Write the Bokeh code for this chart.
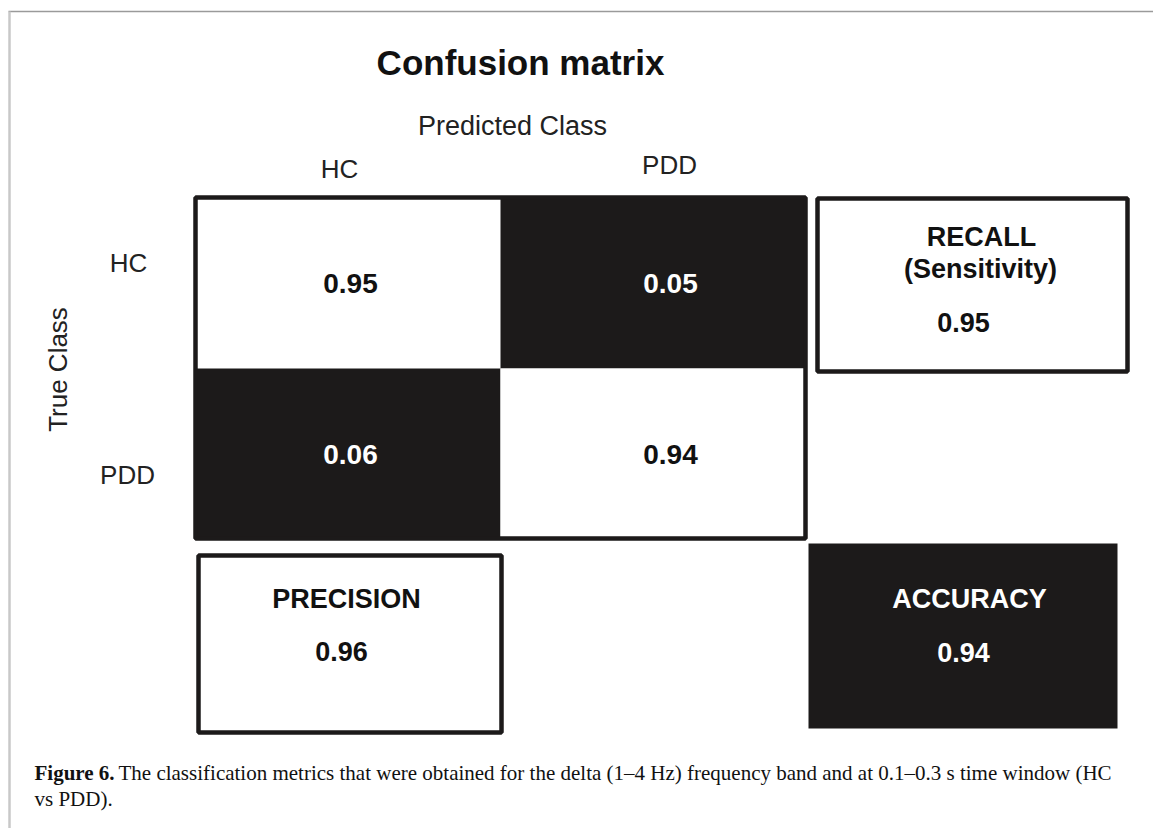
import math
from bokeh.plotting import figure
from bokeh.models import Range1d, ColumnDataSource
from bokeh.core.properties import value
from bokeh.embed import file_html
from bokeh.resources import INLINE

# ---------------- data ----------------
title_text = "Confusion matrix"
x_axis_title = "Predicted Class"
y_axis_title = "True Class"
classes = ["HC", "PDD"]
cm_values = [[0.95, 0.05],
             [0.06, 0.94]]
recall_label = ["RECALL", "(Sensitivity)"]
recall_value = 0.95
precision_label = "PRECISION"
precision_value = 0.96
accuracy_label = "ACCURACY"
accuracy_value = 0.94
caption_bold = "Figure 6."
caption_line1 = "The classification metrics that were obtained for the delta (1\u20134 Hz) frequency band and at 0.1\u20130.3 s time window (HC"
caption_line2 = "vs PDD)."

# ---------------- layout (screen-like coordinates, y downwards) ----------------
W, H = 1153, 828
X0, Y0 = 0, 0
DARK = "#1c1a1a"
INK = "#111111"
SANS = value("Liberation Sans")
SERIF = value("Liberation Serif")

MX0, MY0 = 194, 197     # matrix top-left
CW, CH = 306, 171       # cell size
TXT_DX = [3, 17]        # text offsets inside cells

p = figure(width=W, height=H, output_backend="svg", toolbar_location=None,
           x_range=Range1d(X0, X0 + W), y_range=Range1d(Y0 + H, Y0),
           min_border=0, outline_line_color=None)
p.axis.visible = False
p.grid.visible = False
p.background_fill_color = "white"
p.border_fill_color = "white"

# page frame
p.segment(x0=[8], y0=[11], x1=[X0 + W], y1=[11], line_color="#9a9a9a", line_width=1.5)
p.segment(x0=[9], y0=[11], x1=[9], y1=[Y0 + H], line_color="#c8c8c8", line_width=2.5)

# confusion matrix cells
l, r, t, b, fc, tx, ty, tt, tc = [], [], [], [], [], [], [], [], []
for i, row in enumerate(cm_values):
    for j, v in enumerate(row):
        left = MX0 + j * CW
        top = MY0 + i * CH
        l.append(left); r.append(left + CW)
        t.append(top); b.append(top + CH)
        diag = (i == j)
        fc.append("white" if diag else DARK)
        tx.append(left + CW / 2 + TXT_DX[j])
        ty.append(top + CH / 2)
        tt.append(f"{v:.2f}")
        tc.append(INK if diag else "white")
src = ColumnDataSource(dict(left=l, right=r, top=t, bottom=b, fill=fc,
                            x=tx, y=ty, text=tt, color=tc))
p.quad(left="left", right="right", top="top", bottom="bottom", fill_color="fill",
       line_color=None, source=src)
# outer frame of matrix
p.quad(left=[MX0 + 1], right=[MX0 + 2 * CW - 1], top=[MY0], bottom=[MY0 + 2 * CH - 1],
       fill_color=None, line_color=DARK, line_width=4.5)
p.text(x="x", y="y", text="text", text_color="color", source=src,
       text_font=SANS, text_font_style="bold", text_font_size="28px",
       text_align="center", text_baseline="middle")

# class labels
col_x = [MX0 + CW / 2 - 8, MX0 + CW + CW / 2 + 16]
col_y = [168, 164]
p.text(x=col_x, y=col_y, text=classes, text_font=SANS, text_font_size="26px",
       text_color="#222222", text_align="center", text_baseline="middle")
row_x = [128, 127]
row_y = [MY0 + CH / 2 - 20, MY0 + CH + CH / 2 + 21]
p.text(x=row_x, y=row_y, text=classes, text_font=SANS, text_font_size="26px",
       text_color="#222222", text_align="center", text_baseline="middle")

# axis titles
p.text(x=[512], y=[125], text=[x_axis_title], text_font=SANS, text_font_size="27px",
       text_color="#222222", text_align="center", text_baseline="middle")
p.text(x=[57], y=[369], text=[y_axis_title], text_font=SANS, text_font_size="26px",
       text_color="#222222", text_align="center", text_baseline="middle", angle=math.pi / 2)

# title
p.text(x=[520], y=[62], text=[title_text], text_font=SANS, text_font_style="bold",
       text_font_size="35px", text_color=INK, text_align="center", text_baseline="middle")

# recall box
p.quad(left=[817], right=[1127], top=[198], bottom=[371], fill_color="white",
       line_color=DARK, line_width=4.5)
p.text(x=[981, 980, 963], y=[236, 268, 322],
       text=recall_label + [f"{recall_value:.2f}"], text_font=SANS, text_font_style="bold",
       text_font_size="27px", text_color=INK, text_align="center", text_baseline="middle")

# precision box
p.quad(left=[198], right=[501], top=[555], bottom=[732], fill_color="white",
       line_color=DARK, line_width=4.5)
p.text(x=[346, 341], y=[598, 651], text=[precision_label, f"{precision_value:.2f}"],
       text_font=SANS, text_font_style="bold", text_font_size="27px", text_color=INK,
       text_align="center", text_baseline="middle")

# accuracy box
p.quad(left=[808], right=[1117], top=[543], bottom=[728], fill_color=DARK, line_color=None)
p.text(x=[969, 963], y=[598, 652], text=[accuracy_label, f"{accuracy_value:.2f}"],
       text_font=SANS, text_font_style="bold", text_font_size="27px", text_color="white",
       text_align="center", text_baseline="middle")

# caption
p.text(x=[34], y=[772], text=[caption_bold], text_font=SERIF, text_font_style="bold",
       text_font_size="21px", text_color=INK, text_align="left", text_baseline="alphabetic")
p.text(x=[118, 34], y=[772, 798], text=[caption_line1, caption_line2], text_font=SERIF,
       text_font_size="21px", text_color=INK, text_align="left", text_baseline="alphabetic")

open("out.html", "w").write(file_html(p, INLINE))
